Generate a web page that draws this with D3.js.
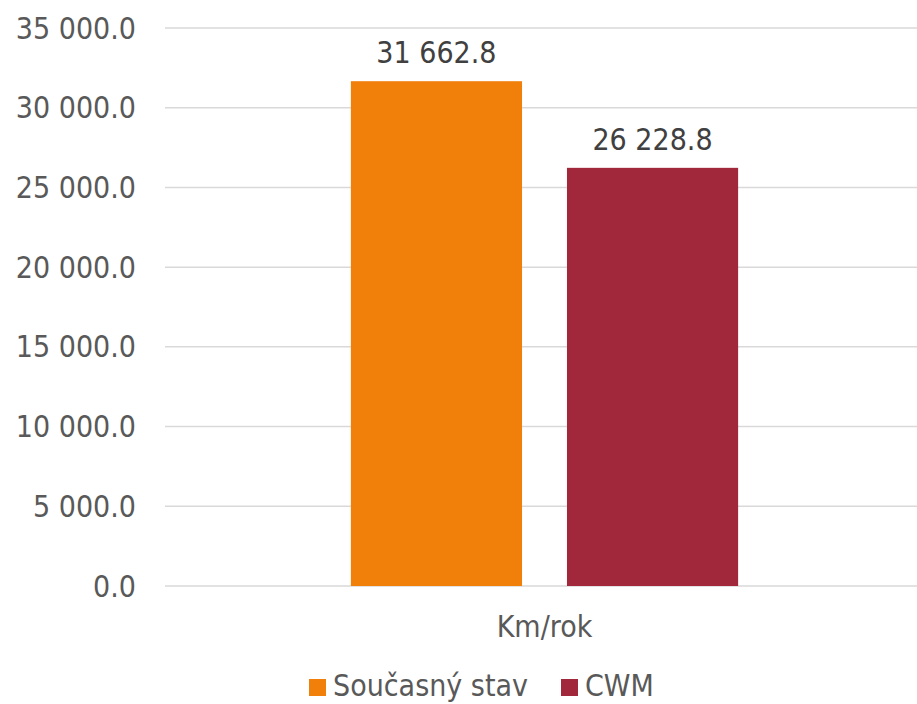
<!DOCTYPE html>
<html>
<head>
<meta charset="utf-8">
<script src="https://cdn.jsdelivr.net/npm/d3@7"></script>
<style>
  body { margin: 0; background: #fff; }
  svg text { font-family: "DejaVu Sans Condensed", "DejaVu Sans", sans-serif; }
</style>
</head>
<body>
<svg id="chart" width="917" height="704"></svg>
<script>
var categories = ['Km/rok'];
var seriesNames = ['Současný stav', 'CWM'];
var seriesValues = [31662.8, 26228.8];
var yTicks = [0, 5000, 10000, 15000, 20000, 25000, 30000, 35000];
var colors = ['#F0800A', '#A0283A'];

var svg = d3.select('#chart');
var plotLeft = 165, plotRight = 924, plotTop = 28, plotBottom = 586;

var fmt = function (v) {
  var s = d3.format(',.1f')(v);
  return s.replace(/,/g, ' ');
};

var y = d3.scaleLinear().domain([0, 35000]).range([plotBottom, plotTop]);
var x0 = d3.scaleBand().domain(categories).range([plotLeft, plotRight]).paddingOuter(0.48).paddingInner(0);
var x1 = d3.scaleBand().domain(seriesNames).range([0, x0.bandwidth()]).paddingInner(0.208).paddingOuter(0);

// gridlines
svg.append('g')
  .selectAll('line')
  .data(yTicks)
  .enter()
  .append('line')
  .attr('x1', plotLeft)
  .attr('x2', 917)
  .attr('y1', function (d) { return y(d); })
  .attr('y2', function (d) { return y(d); })
  .attr('stroke', '#d9d9d9')
  .attr('stroke-width', 1.5);

// y labels
svg.append('g')
  .selectAll('text')
  .data(yTicks)
  .enter()
  .append('text')
  .attr('x', 136)
  .attr('y', function (d) { return y(d) + 10.5; })
  .attr('text-anchor', 'end')
  .attr('font-size', '30px')
  .attr('fill', '#595959')
  .text(function (d) { return fmt(d); });

// bars
var g = svg.append('g').attr('transform', 'translate(' + x0(categories[0]) + ',0)');
g.selectAll('rect')
  .data(seriesValues)
  .enter()
  .append('rect')
  .attr('x', function (d, i) { return x1(seriesNames[i]); })
  .attr('y', function (d) { return y(d); })
  .attr('width', x1.bandwidth())
  .attr('height', function (d) { return plotBottom - y(d); })
  .attr('fill', function (d, i) { return colors[i]; });

g.selectAll('text.val')
  .data(seriesValues)
  .enter()
  .append('text')
  .attr('class', 'val')
  .attr('x', function (d, i) { return x1(seriesNames[i]) + x1.bandwidth() / 2; })
  .attr('y', function (d) { return y(d) - 18; })
  .attr('text-anchor', 'middle')
  .attr('font-size', '30px')
  .attr('fill', '#404040')
  .text(function (d) { return fmt(d); });

// category label
svg.append('text')
  .attr('x', x0(categories[0]) + x0.bandwidth() / 2)
  .attr('y', 637)
  .attr('text-anchor', 'middle')
  .attr('font-size', '30px')
  .attr('fill', '#595959')
  .text(categories[0]);

// legend
var legendX = [309, 561];
var legend = svg.append('g')
  .selectAll('g')
  .data(seriesNames)
  .enter()
  .append('g')
  .attr('transform', function (d, i) { return 'translate(' + legendX[i] + ',679)'; });

legend.append('rect')
  .attr('width', 17)
  .attr('height', 17)
  .attr('fill', function (d, i) { return colors[i]; });

legend.append('text')
  .attr('x', 24)
  .attr('y', 17)
  .attr('font-size', '30px')
  .attr('fill', '#595959')
  .text(function (d) { return d; });
</script>
</body>
</html>
